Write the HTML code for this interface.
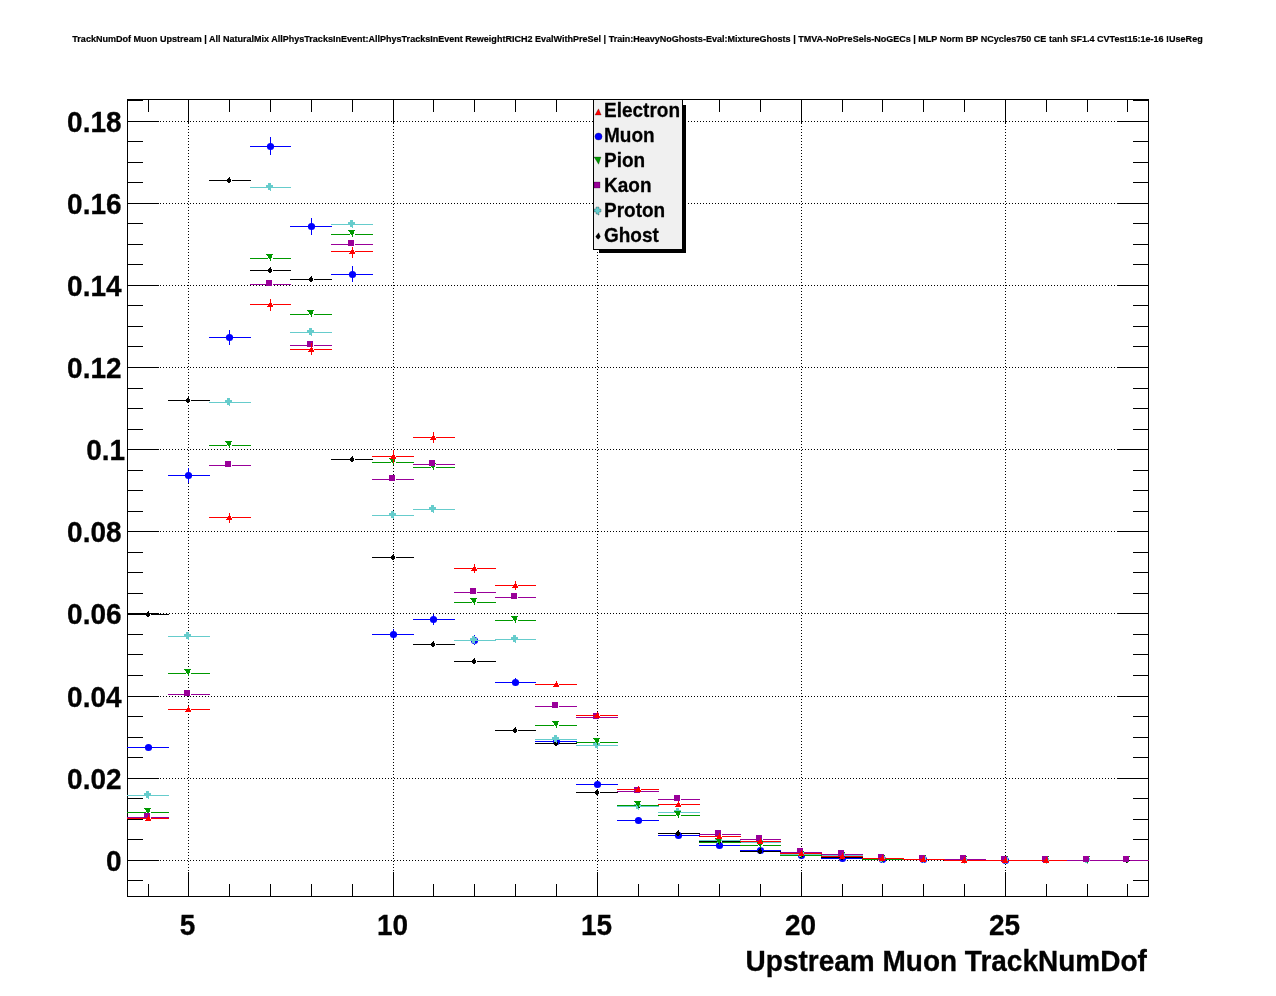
<!DOCTYPE html>
<html lang="en"><head><meta charset="utf-8"><title>Upstream Muon TrackNumDof</title>
<style>html,body{margin:0;padding:0;background:#fff;overflow:hidden}svg{display:block;will-change:transform}</style></head>
<body>
<svg width="1276" height="996" viewBox="0 0 1276 996" font-family="'Liberation Sans', Arial, Helvetica, sans-serif" font-weight="bold">
<rect width="1276" height="996" fill="#ffffff"/>
<g fill="#000" stroke="#000" stroke-width="0.2" style="opacity:0.996"><text transform="translate(637.5,42.1) scale(1,1.08)" text-anchor="middle" font-size="9.04">TrackNumDof Muon Upstream | All NaturalMix AllPhysTracksInEvent:AllPhysTracksInEvent ReweightRICH2 EvalWithPreSel | Train:HeavyNoGhosts-Eval:MixtureGhosts | TMVA-NoPreSels-NoGECs | MLP Norm BP NCycles750 CE tanh SF1.4 CVTest15:1e-16 !UseReg</text></g>
<g stroke="#000" stroke-width="1" stroke-dasharray="1 2" shape-rendering="crispEdges" fill="none">
<line x1="160" y1="121.5" x2="1117" y2="121.5"/>
<line x1="160" y1="203.5" x2="1117" y2="203.5"/>
<line x1="160" y1="285.5" x2="1117" y2="285.5"/>
<line x1="160" y1="367.5" x2="1117" y2="367.5"/>
<line x1="160" y1="449.5" x2="1117" y2="449.5"/>
<line x1="160" y1="531.5" x2="1117" y2="531.5"/>
<line x1="160" y1="613.5" x2="1117" y2="613.5"/>
<line x1="160" y1="696.5" x2="1117" y2="696.5"/>
<line x1="160" y1="778.5" x2="1117" y2="778.5"/>
<line x1="160" y1="860.5" x2="1117" y2="860.5"/>
<line x1="188.5" y1="123" x2="188.5" y2="871"/>
<line x1="393.5" y1="123" x2="393.5" y2="871"/>
<line x1="597.5" y1="123" x2="597.5" y2="871"/>
<line x1="801.5" y1="123" x2="801.5" y2="871"/>
<line x1="1005.5" y1="123" x2="1005.5" y2="871"/>
</g>
<g stroke="#000" stroke-width="1" shape-rendering="crispEdges" fill="none">
<rect x="127.5" y="99.5" width="1021" height="797"/>
<line x1="148.5" y1="897" x2="148.5" y2="884"/>
<line x1="148.5" y1="99" x2="148.5" y2="112"/>
<line x1="188.5" y1="897" x2="188.5" y2="872"/>
<line x1="188.5" y1="99" x2="188.5" y2="123"/>
<line x1="229.5" y1="897" x2="229.5" y2="884"/>
<line x1="229.5" y1="99" x2="229.5" y2="112"/>
<line x1="270.5" y1="897" x2="270.5" y2="884"/>
<line x1="270.5" y1="99" x2="270.5" y2="112"/>
<line x1="311.5" y1="897" x2="311.5" y2="884"/>
<line x1="311.5" y1="99" x2="311.5" y2="112"/>
<line x1="352.5" y1="897" x2="352.5" y2="884"/>
<line x1="352.5" y1="99" x2="352.5" y2="112"/>
<line x1="393.5" y1="897" x2="393.5" y2="872"/>
<line x1="393.5" y1="99" x2="393.5" y2="123"/>
<line x1="433.5" y1="897" x2="433.5" y2="884"/>
<line x1="433.5" y1="99" x2="433.5" y2="112"/>
<line x1="474.5" y1="897" x2="474.5" y2="884"/>
<line x1="474.5" y1="99" x2="474.5" y2="112"/>
<line x1="515.5" y1="897" x2="515.5" y2="884"/>
<line x1="515.5" y1="99" x2="515.5" y2="112"/>
<line x1="556.5" y1="897" x2="556.5" y2="884"/>
<line x1="556.5" y1="99" x2="556.5" y2="112"/>
<line x1="597.5" y1="897" x2="597.5" y2="872"/>
<line x1="597.5" y1="99" x2="597.5" y2="123"/>
<line x1="638.5" y1="897" x2="638.5" y2="884"/>
<line x1="638.5" y1="99" x2="638.5" y2="112"/>
<line x1="678.5" y1="897" x2="678.5" y2="884"/>
<line x1="678.5" y1="99" x2="678.5" y2="112"/>
<line x1="719.5" y1="897" x2="719.5" y2="884"/>
<line x1="719.5" y1="99" x2="719.5" y2="112"/>
<line x1="760.5" y1="897" x2="760.5" y2="884"/>
<line x1="760.5" y1="99" x2="760.5" y2="112"/>
<line x1="801.5" y1="897" x2="801.5" y2="872"/>
<line x1="801.5" y1="99" x2="801.5" y2="123"/>
<line x1="842.5" y1="897" x2="842.5" y2="884"/>
<line x1="842.5" y1="99" x2="842.5" y2="112"/>
<line x1="882.5" y1="897" x2="882.5" y2="884"/>
<line x1="882.5" y1="99" x2="882.5" y2="112"/>
<line x1="923.5" y1="897" x2="923.5" y2="884"/>
<line x1="923.5" y1="99" x2="923.5" y2="112"/>
<line x1="964.5" y1="897" x2="964.5" y2="884"/>
<line x1="964.5" y1="99" x2="964.5" y2="112"/>
<line x1="1005.5" y1="897" x2="1005.5" y2="872"/>
<line x1="1005.5" y1="99" x2="1005.5" y2="123"/>
<line x1="1046.5" y1="897" x2="1046.5" y2="884"/>
<line x1="1046.5" y1="99" x2="1046.5" y2="112"/>
<line x1="1087.5" y1="897" x2="1087.5" y2="884"/>
<line x1="1087.5" y1="99" x2="1087.5" y2="112"/>
<line x1="1127.5" y1="897" x2="1127.5" y2="884"/>
<line x1="1127.5" y1="99" x2="1127.5" y2="112"/>
<line x1="127" y1="880.5" x2="143" y2="880.5"/>
<line x1="1149" y1="880.5" x2="1133" y2="880.5"/>
<line x1="127" y1="860.5" x2="159" y2="860.5"/>
<line x1="1149" y1="860.5" x2="1117" y2="860.5"/>
<line x1="127" y1="839.5" x2="143" y2="839.5"/>
<line x1="1149" y1="839.5" x2="1133" y2="839.5"/>
<line x1="127" y1="819.5" x2="143" y2="819.5"/>
<line x1="1149" y1="819.5" x2="1133" y2="819.5"/>
<line x1="127" y1="798.5" x2="143" y2="798.5"/>
<line x1="1149" y1="798.5" x2="1133" y2="798.5"/>
<line x1="127" y1="778.5" x2="159" y2="778.5"/>
<line x1="1149" y1="778.5" x2="1117" y2="778.5"/>
<line x1="127" y1="757.5" x2="143" y2="757.5"/>
<line x1="1149" y1="757.5" x2="1133" y2="757.5"/>
<line x1="127" y1="737.5" x2="143" y2="737.5"/>
<line x1="1149" y1="737.5" x2="1133" y2="737.5"/>
<line x1="127" y1="716.5" x2="143" y2="716.5"/>
<line x1="1149" y1="716.5" x2="1133" y2="716.5"/>
<line x1="127" y1="696.5" x2="159" y2="696.5"/>
<line x1="1149" y1="696.5" x2="1117" y2="696.5"/>
<line x1="127" y1="675.5" x2="143" y2="675.5"/>
<line x1="1149" y1="675.5" x2="1133" y2="675.5"/>
<line x1="127" y1="654.5" x2="143" y2="654.5"/>
<line x1="1149" y1="654.5" x2="1133" y2="654.5"/>
<line x1="127" y1="634.5" x2="143" y2="634.5"/>
<line x1="1149" y1="634.5" x2="1133" y2="634.5"/>
<line x1="127" y1="613.5" x2="159" y2="613.5"/>
<line x1="1149" y1="613.5" x2="1117" y2="613.5"/>
<line x1="127" y1="593.5" x2="143" y2="593.5"/>
<line x1="1149" y1="593.5" x2="1133" y2="593.5"/>
<line x1="127" y1="572.5" x2="143" y2="572.5"/>
<line x1="1149" y1="572.5" x2="1133" y2="572.5"/>
<line x1="127" y1="552.5" x2="143" y2="552.5"/>
<line x1="1149" y1="552.5" x2="1133" y2="552.5"/>
<line x1="127" y1="531.5" x2="159" y2="531.5"/>
<line x1="1149" y1="531.5" x2="1117" y2="531.5"/>
<line x1="127" y1="511.5" x2="143" y2="511.5"/>
<line x1="1149" y1="511.5" x2="1133" y2="511.5"/>
<line x1="127" y1="490.5" x2="143" y2="490.5"/>
<line x1="1149" y1="490.5" x2="1133" y2="490.5"/>
<line x1="127" y1="470.5" x2="143" y2="470.5"/>
<line x1="1149" y1="470.5" x2="1133" y2="470.5"/>
<line x1="127" y1="449.5" x2="159" y2="449.5"/>
<line x1="1149" y1="449.5" x2="1117" y2="449.5"/>
<line x1="127" y1="429.5" x2="143" y2="429.5"/>
<line x1="1149" y1="429.5" x2="1133" y2="429.5"/>
<line x1="127" y1="408.5" x2="143" y2="408.5"/>
<line x1="1149" y1="408.5" x2="1133" y2="408.5"/>
<line x1="127" y1="388.5" x2="143" y2="388.5"/>
<line x1="1149" y1="388.5" x2="1133" y2="388.5"/>
<line x1="127" y1="367.5" x2="159" y2="367.5"/>
<line x1="1149" y1="367.5" x2="1117" y2="367.5"/>
<line x1="127" y1="346.5" x2="143" y2="346.5"/>
<line x1="1149" y1="346.5" x2="1133" y2="346.5"/>
<line x1="127" y1="326.5" x2="143" y2="326.5"/>
<line x1="1149" y1="326.5" x2="1133" y2="326.5"/>
<line x1="127" y1="305.5" x2="143" y2="305.5"/>
<line x1="1149" y1="305.5" x2="1133" y2="305.5"/>
<line x1="127" y1="285.5" x2="159" y2="285.5"/>
<line x1="1149" y1="285.5" x2="1117" y2="285.5"/>
<line x1="127" y1="264.5" x2="143" y2="264.5"/>
<line x1="1149" y1="264.5" x2="1133" y2="264.5"/>
<line x1="127" y1="244.5" x2="143" y2="244.5"/>
<line x1="1149" y1="244.5" x2="1133" y2="244.5"/>
<line x1="127" y1="223.5" x2="143" y2="223.5"/>
<line x1="1149" y1="223.5" x2="1133" y2="223.5"/>
<line x1="127" y1="203.5" x2="159" y2="203.5"/>
<line x1="1149" y1="203.5" x2="1117" y2="203.5"/>
<line x1="127" y1="182.5" x2="143" y2="182.5"/>
<line x1="1149" y1="182.5" x2="1133" y2="182.5"/>
<line x1="127" y1="162.5" x2="143" y2="162.5"/>
<line x1="1149" y1="162.5" x2="1133" y2="162.5"/>
<line x1="127" y1="141.5" x2="143" y2="141.5"/>
<line x1="1149" y1="141.5" x2="1133" y2="141.5"/>
<line x1="127" y1="121.5" x2="159" y2="121.5"/>
<line x1="1149" y1="121.5" x2="1117" y2="121.5"/>
<line x1="127" y1="100.5" x2="143" y2="100.5"/>
<line x1="1149" y1="100.5" x2="1133" y2="100.5"/>
</g>
<g font-size="28" fill="#000" stroke="#000" stroke-width="0.3" style="opacity:0.996">
<text transform="translate(121.6,132.4) scale(1,1.055)" text-anchor="end">0.18</text>
<text transform="translate(121.6,214.4) scale(1,1.055)" text-anchor="end">0.16</text>
<text transform="translate(121.6,296.4) scale(1,1.055)" text-anchor="end">0.14</text>
<text transform="translate(121.6,378.4) scale(1,1.055)" text-anchor="end">0.12</text>
<text transform="translate(125.19999999999999,460.4) scale(1,1.055)" text-anchor="end">0.1</text>
<text transform="translate(121.6,542.4) scale(1,1.055)" text-anchor="end">0.08</text>
<text transform="translate(121.6,624.4) scale(1,1.055)" text-anchor="end">0.06</text>
<text transform="translate(121.6,707.4) scale(1,1.055)" text-anchor="end">0.04</text>
<text transform="translate(121.6,789.4) scale(1,1.055)" text-anchor="end">0.02</text>
<text transform="translate(121.6,871.4) scale(1,1.055)" text-anchor="end">0</text>
<text transform="translate(187.6,935.2) scale(1,1.055)" text-anchor="middle">5</text>
<text transform="translate(392.6,935.2) scale(1,1.055)" text-anchor="middle">10</text>
<text transform="translate(596.6,935.2) scale(1,1.055)" text-anchor="middle">15</text>
<text transform="translate(800.6,935.2) scale(1,1.055)" text-anchor="middle">20</text>
<text transform="translate(1004.6,935.2) scale(1,1.055)" text-anchor="middle">25</text>
<text transform="translate(1146.8,971.0) scale(1,1.055)" text-anchor="end">Upstream Muon TrackNumDof</text>
</g>
<clipPath id="fc"><rect x="127" y="99" width="1022" height="798"/></clipPath>
<g clip-path="url(#fc)">
<g stroke="#0000ff" stroke-width="1" shape-rendering="crispEdges">
<line x1="127" y1="747.5" x2="146" y2="747.5"/>
<line x1="151" y1="747.5" x2="169" y2="747.5"/>
<line x1="168" y1="475.5" x2="186" y2="475.5"/>
<line x1="191" y1="475.5" x2="210" y2="475.5"/>
<line x1="188.5" y1="468" x2="188.5" y2="473"/>
<line x1="188.5" y1="478" x2="188.5" y2="483"/>
<line x1="209" y1="337.5" x2="227" y2="337.5"/>
<line x1="232" y1="337.5" x2="251" y2="337.5"/>
<line x1="229.5" y1="330" x2="229.5" y2="335"/>
<line x1="229.5" y1="340" x2="229.5" y2="345"/>
<line x1="250" y1="146.5" x2="268" y2="146.5"/>
<line x1="273" y1="146.5" x2="291" y2="146.5"/>
<line x1="270.5" y1="137" x2="270.5" y2="144"/>
<line x1="270.5" y1="149" x2="270.5" y2="155"/>
<line x1="290" y1="226.5" x2="309" y2="226.5"/>
<line x1="314" y1="226.5" x2="332" y2="226.5"/>
<line x1="311.5" y1="218" x2="311.5" y2="224"/>
<line x1="311.5" y1="229" x2="311.5" y2="235"/>
<line x1="331" y1="274.5" x2="350" y2="274.5"/>
<line x1="355" y1="274.5" x2="373" y2="274.5"/>
<line x1="352.5" y1="266" x2="352.5" y2="272"/>
<line x1="352.5" y1="277" x2="352.5" y2="282"/>
<line x1="372" y1="634.5" x2="391" y2="634.5"/>
<line x1="396" y1="634.5" x2="414" y2="634.5"/>
<line x1="393.5" y1="629" x2="393.5" y2="632"/>
<line x1="393.5" y1="637" x2="393.5" y2="639"/>
<line x1="413" y1="619.5" x2="431" y2="619.5"/>
<line x1="436" y1="619.5" x2="455" y2="619.5"/>
<line x1="433.5" y1="614" x2="433.5" y2="617"/>
<line x1="433.5" y1="622" x2="433.5" y2="625"/>
<line x1="454" y1="640.5" x2="472" y2="640.5"/>
<line x1="477" y1="640.5" x2="496" y2="640.5"/>
<line x1="474.5" y1="635" x2="474.5" y2="638"/>
<line x1="474.5" y1="643" x2="474.5" y2="645"/>
<line x1="495" y1="682.5" x2="513" y2="682.5"/>
<line x1="518" y1="682.5" x2="536" y2="682.5"/>
<line x1="515.5" y1="678" x2="515.5" y2="680"/>
<line x1="515.5" y1="685" x2="515.5" y2="686"/>
<line x1="535" y1="741.5" x2="554" y2="741.5"/>
<line x1="559" y1="741.5" x2="577" y2="741.5"/>
<line x1="576" y1="784.5" x2="595" y2="784.5"/>
<line x1="600" y1="784.5" x2="618" y2="784.5"/>
<line x1="617" y1="820.5" x2="636" y2="820.5"/>
<line x1="641" y1="820.5" x2="659" y2="820.5"/>
<line x1="658" y1="835.5" x2="676" y2="835.5"/>
<line x1="681" y1="835.5" x2="700" y2="835.5"/>
<line x1="699" y1="845.5" x2="717" y2="845.5"/>
<line x1="722" y1="845.5" x2="741" y2="845.5"/>
<line x1="740" y1="850.5" x2="758" y2="850.5"/>
<line x1="763" y1="850.5" x2="781" y2="850.5"/>
<line x1="780" y1="855.5" x2="799" y2="855.5"/>
<line x1="804" y1="855.5" x2="822" y2="855.5"/>
<line x1="821" y1="858.5" x2="840" y2="858.5"/>
<line x1="845" y1="858.5" x2="863" y2="858.5"/>
<line x1="862" y1="859.5" x2="880" y2="859.5"/>
<line x1="885" y1="859.5" x2="904" y2="859.5"/>
<line x1="903" y1="859.5" x2="921" y2="859.5"/>
<line x1="926" y1="859.5" x2="945" y2="859.5"/>
<line x1="985" y1="860.5" x2="1003" y2="860.5"/>
<line x1="1008" y1="860.5" x2="1026" y2="860.5"/>
</g>
<g shape-rendering="crispEdges">
<circle cx="148.5" cy="747.5" r="3.6" fill="#0000ff" shape-rendering="geometricPrecision"/>
<circle cx="188.5" cy="475.5" r="3.6" fill="#0000ff" shape-rendering="geometricPrecision"/>
<circle cx="229.5" cy="337.5" r="3.6" fill="#0000ff" shape-rendering="geometricPrecision"/>
<circle cx="270.5" cy="146.5" r="3.6" fill="#0000ff" shape-rendering="geometricPrecision"/>
<circle cx="311.5" cy="226.5" r="3.6" fill="#0000ff" shape-rendering="geometricPrecision"/>
<circle cx="352.5" cy="274.5" r="3.6" fill="#0000ff" shape-rendering="geometricPrecision"/>
<circle cx="393.5" cy="634.5" r="3.6" fill="#0000ff" shape-rendering="geometricPrecision"/>
<circle cx="433.5" cy="619.5" r="3.6" fill="#0000ff" shape-rendering="geometricPrecision"/>
<circle cx="474.5" cy="640.5" r="3.6" fill="#0000ff" shape-rendering="geometricPrecision"/>
<circle cx="515.5" cy="682.5" r="3.6" fill="#0000ff" shape-rendering="geometricPrecision"/>
<circle cx="556.5" cy="741.5" r="3.6" fill="#0000ff" shape-rendering="geometricPrecision"/>
<circle cx="597.5" cy="784.5" r="3.6" fill="#0000ff" shape-rendering="geometricPrecision"/>
<circle cx="638.5" cy="820.5" r="3.6" fill="#0000ff" shape-rendering="geometricPrecision"/>
<circle cx="678.5" cy="835.5" r="3.6" fill="#0000ff" shape-rendering="geometricPrecision"/>
<circle cx="719.5" cy="845.5" r="3.6" fill="#0000ff" shape-rendering="geometricPrecision"/>
<circle cx="760.5" cy="850.5" r="3.6" fill="#0000ff" shape-rendering="geometricPrecision"/>
<circle cx="801.5" cy="855.5" r="3.6" fill="#0000ff" shape-rendering="geometricPrecision"/>
<circle cx="842.5" cy="858.5" r="3.6" fill="#0000ff" shape-rendering="geometricPrecision"/>
<circle cx="882.5" cy="859.5" r="3.6" fill="#0000ff" shape-rendering="geometricPrecision"/>
<circle cx="923.5" cy="859.5" r="3.6" fill="#0000ff" shape-rendering="geometricPrecision"/>
<circle cx="1005.5" cy="860.5" r="3.6" fill="#0000ff" shape-rendering="geometricPrecision"/>
</g>
<g stroke="#000000" stroke-width="1" shape-rendering="crispEdges">
<line x1="127" y1="614.5" x2="146" y2="614.5"/>
<line x1="151" y1="614.5" x2="169" y2="614.5"/>
<line x1="168" y1="400.5" x2="186" y2="400.5"/>
<line x1="191" y1="400.5" x2="210" y2="400.5"/>
<line x1="209" y1="180.5" x2="227" y2="180.5"/>
<line x1="232" y1="180.5" x2="251" y2="180.5"/>
<line x1="250" y1="270.5" x2="268" y2="270.5"/>
<line x1="273" y1="270.5" x2="291" y2="270.5"/>
<line x1="290" y1="279.5" x2="309" y2="279.5"/>
<line x1="314" y1="279.5" x2="332" y2="279.5"/>
<line x1="331" y1="459.5" x2="350" y2="459.5"/>
<line x1="355" y1="459.5" x2="373" y2="459.5"/>
<line x1="372" y1="557.5" x2="391" y2="557.5"/>
<line x1="396" y1="557.5" x2="414" y2="557.5"/>
<line x1="413" y1="644.5" x2="431" y2="644.5"/>
<line x1="436" y1="644.5" x2="455" y2="644.5"/>
<line x1="454" y1="661.5" x2="472" y2="661.5"/>
<line x1="477" y1="661.5" x2="496" y2="661.5"/>
<line x1="495" y1="730.5" x2="513" y2="730.5"/>
<line x1="518" y1="730.5" x2="536" y2="730.5"/>
<line x1="535" y1="743.5" x2="554" y2="743.5"/>
<line x1="559" y1="743.5" x2="577" y2="743.5"/>
<line x1="576" y1="792.5" x2="595" y2="792.5"/>
<line x1="600" y1="792.5" x2="618" y2="792.5"/>
<line x1="617" y1="806.5" x2="636" y2="806.5"/>
<line x1="641" y1="806.5" x2="659" y2="806.5"/>
<line x1="658" y1="833.5" x2="676" y2="833.5"/>
<line x1="681" y1="833.5" x2="700" y2="833.5"/>
<line x1="699" y1="841.5" x2="717" y2="841.5"/>
<line x1="722" y1="841.5" x2="741" y2="841.5"/>
<line x1="740" y1="851.5" x2="758" y2="851.5"/>
<line x1="763" y1="851.5" x2="781" y2="851.5"/>
<line x1="780" y1="855.5" x2="799" y2="855.5"/>
<line x1="804" y1="855.5" x2="822" y2="855.5"/>
<line x1="821" y1="857.5" x2="840" y2="857.5"/>
<line x1="845" y1="857.5" x2="863" y2="857.5"/>
<line x1="862" y1="859.5" x2="880" y2="859.5"/>
<line x1="885" y1="859.5" x2="904" y2="859.5"/>
<line x1="903" y1="859.5" x2="921" y2="859.5"/>
<line x1="926" y1="859.5" x2="945" y2="859.5"/>
<line x1="944" y1="860.5" x2="962" y2="860.5"/>
<line x1="967" y1="860.5" x2="986" y2="860.5"/>
<line x1="985" y1="860.5" x2="1003" y2="860.5"/>
<line x1="1008" y1="860.5" x2="1026" y2="860.5"/>
<line x1="1025" y1="860.5" x2="1044" y2="860.5"/>
<line x1="1049" y1="860.5" x2="1067" y2="860.5"/>
<line x1="1107" y1="860.5" x2="1125" y2="860.5"/>
<line x1="1130" y1="860.5" x2="1149" y2="860.5"/>
</g>
<g shape-rendering="crispEdges">
<polygon points="148.7,610.7 149.5,612.8 150.4,614.5 149.4,616.2 148.2,617.2 146.8,616.2 145.7,614.5 147.0,612.8" fill="#000000"/>
<polygon points="188.7,396.7 189.5,398.8 190.4,400.5 189.4,402.2 188.2,403.2 186.8,402.2 185.7,400.5 187.0,398.8" fill="#000000"/>
<polygon points="229.7,176.7 230.5,178.8 231.4,180.5 230.4,182.2 229.2,183.2 227.8,182.2 226.7,180.5 228.0,178.8" fill="#000000"/>
<polygon points="270.7,266.7 271.5,268.8 272.4,270.5 271.4,272.2 270.2,273.2 268.8,272.2 267.7,270.5 269.0,268.8" fill="#000000"/>
<polygon points="311.7,275.7 312.5,277.8 313.4,279.5 312.4,281.2 311.2,282.2 309.8,281.2 308.7,279.5 310.0,277.8" fill="#000000"/>
<polygon points="352.7,455.7 353.5,457.8 354.4,459.5 353.4,461.2 352.2,462.2 350.8,461.2 349.7,459.5 351.0,457.8" fill="#000000"/>
<polygon points="393.7,553.7 394.5,555.8 395.4,557.5 394.4,559.2 393.2,560.2 391.8,559.2 390.7,557.5 392.0,555.8" fill="#000000"/>
<polygon points="433.7,640.7 434.5,642.8 435.4,644.5 434.4,646.2 433.2,647.2 431.8,646.2 430.7,644.5 432.0,642.8" fill="#000000"/>
<polygon points="474.7,657.7 475.5,659.8 476.4,661.5 475.4,663.2 474.2,664.2 472.8,663.2 471.7,661.5 473.0,659.8" fill="#000000"/>
<polygon points="515.7,726.7 516.5,728.8 517.4,730.5 516.4,732.2 515.2,733.2 513.8,732.2 512.7,730.5 514.0,728.8" fill="#000000"/>
<polygon points="556.7,739.7 557.5,741.8 558.4,743.5 557.4,745.2 556.2,746.2 554.8,745.2 553.7,743.5 555.0,741.8" fill="#000000"/>
<polygon points="597.7,788.7 598.5,790.8 599.4,792.5 598.4,794.2 597.2,795.2 595.8,794.2 594.7,792.5 596.0,790.8" fill="#000000"/>
<polygon points="638.7,802.7 639.5,804.8 640.4,806.5 639.4,808.2 638.2,809.2 636.8,808.2 635.7,806.5 637.0,804.8" fill="#000000"/>
<polygon points="678.7,829.7 679.5,831.8 680.4,833.5 679.4,835.2 678.2,836.2 676.8,835.2 675.7,833.5 677.0,831.8" fill="#000000"/>
<polygon points="719.7,837.7 720.5,839.8 721.4,841.5 720.4,843.2 719.2,844.2 717.8,843.2 716.7,841.5 718.0,839.8" fill="#000000"/>
<polygon points="760.7,847.7 761.5,849.8 762.4,851.5 761.4,853.2 760.2,854.2 758.8,853.2 757.7,851.5 759.0,849.8" fill="#000000"/>
<polygon points="801.7,851.7 802.5,853.8 803.4,855.5 802.4,857.2 801.2,858.2 799.8,857.2 798.7,855.5 800.0,853.8" fill="#000000"/>
<polygon points="842.7,853.7 843.5,855.8 844.4,857.5 843.4,859.2 842.2,860.2 840.8,859.2 839.7,857.5 841.0,855.8" fill="#000000"/>
<polygon points="882.7,855.7 883.5,857.8 884.4,859.5 883.4,861.2 882.2,862.2 880.8,861.2 879.7,859.5 881.0,857.8" fill="#000000"/>
<polygon points="923.7,855.7 924.5,857.8 925.4,859.5 924.4,861.2 923.2,862.2 921.8,861.2 920.7,859.5 922.0,857.8" fill="#000000"/>
<polygon points="964.7,856.7 965.5,858.8 966.4,860.5 965.4,862.2 964.2,863.2 962.8,862.2 961.7,860.5 963.0,858.8" fill="#000000"/>
<polygon points="1005.7,856.7 1006.5,858.8 1007.4,860.5 1006.4,862.2 1005.2,863.2 1003.8,862.2 1002.7,860.5 1004.0,858.8" fill="#000000"/>
<polygon points="1046.7,856.7 1047.5,858.8 1048.4,860.5 1047.4,862.2 1046.2,863.2 1044.8,862.2 1043.7,860.5 1045.0,858.8" fill="#000000"/>
<polygon points="1127.7,856.7 1128.5,858.8 1129.4,860.5 1128.4,862.2 1127.2,863.2 1125.8,862.2 1124.7,860.5 1126.0,858.8" fill="#000000"/>
</g>
<g stroke="#66cccc" stroke-width="1" shape-rendering="crispEdges">
<line x1="127" y1="795.5" x2="146" y2="795.5"/>
<line x1="151" y1="795.5" x2="169" y2="795.5"/>
<line x1="168" y1="636.5" x2="186" y2="636.5"/>
<line x1="191" y1="636.5" x2="210" y2="636.5"/>
<line x1="209" y1="402.5" x2="227" y2="402.5"/>
<line x1="232" y1="402.5" x2="251" y2="402.5"/>
<line x1="250" y1="187.5" x2="268" y2="187.5"/>
<line x1="273" y1="187.5" x2="291" y2="187.5"/>
<line x1="290" y1="332.5" x2="309" y2="332.5"/>
<line x1="314" y1="332.5" x2="332" y2="332.5"/>
<line x1="331" y1="224.5" x2="350" y2="224.5"/>
<line x1="355" y1="224.5" x2="373" y2="224.5"/>
<line x1="372" y1="515.5" x2="391" y2="515.5"/>
<line x1="396" y1="515.5" x2="414" y2="515.5"/>
<line x1="413" y1="509.5" x2="431" y2="509.5"/>
<line x1="436" y1="509.5" x2="455" y2="509.5"/>
<line x1="454" y1="640.5" x2="472" y2="640.5"/>
<line x1="477" y1="640.5" x2="496" y2="640.5"/>
<line x1="495" y1="639.5" x2="513" y2="639.5"/>
<line x1="518" y1="639.5" x2="536" y2="639.5"/>
<line x1="535" y1="739.5" x2="554" y2="739.5"/>
<line x1="559" y1="739.5" x2="577" y2="739.5"/>
<line x1="576" y1="745.5" x2="595" y2="745.5"/>
<line x1="600" y1="745.5" x2="618" y2="745.5"/>
<line x1="617" y1="806.5" x2="636" y2="806.5"/>
<line x1="641" y1="806.5" x2="659" y2="806.5"/>
<line x1="658" y1="812.5" x2="676" y2="812.5"/>
<line x1="681" y1="812.5" x2="700" y2="812.5"/>
<line x1="699" y1="840.5" x2="717" y2="840.5"/>
<line x1="722" y1="840.5" x2="741" y2="840.5"/>
<line x1="740" y1="842.5" x2="758" y2="842.5"/>
<line x1="763" y1="842.5" x2="781" y2="842.5"/>
<line x1="780" y1="854.5" x2="799" y2="854.5"/>
<line x1="804" y1="854.5" x2="822" y2="854.5"/>
<line x1="821" y1="855.5" x2="840" y2="855.5"/>
<line x1="845" y1="855.5" x2="863" y2="855.5"/>
<line x1="862" y1="859.5" x2="880" y2="859.5"/>
<line x1="885" y1="859.5" x2="904" y2="859.5"/>
<line x1="903" y1="859.5" x2="921" y2="859.5"/>
<line x1="926" y1="859.5" x2="945" y2="859.5"/>
<line x1="944" y1="860.5" x2="962" y2="860.5"/>
<line x1="967" y1="860.5" x2="986" y2="860.5"/>
<line x1="985" y1="860.5" x2="1003" y2="860.5"/>
<line x1="1008" y1="860.5" x2="1026" y2="860.5"/>
<line x1="1025" y1="860.5" x2="1044" y2="860.5"/>
<line x1="1049" y1="860.5" x2="1067" y2="860.5"/>
<line x1="1066" y1="860.5" x2="1085" y2="860.5"/>
<line x1="1090" y1="860.5" x2="1108" y2="860.5"/>
</g>
<g shape-rendering="crispEdges">
<path d="M146,791 h3 v2 h2 v3 h-2 v3 h-1 v-1 h-2 v-2 h-2 v-3 h2 z" fill="#66cccc"/>
<path d="M186,632 h3 v2 h2 v3 h-2 v3 h-1 v-1 h-2 v-2 h-2 v-3 h2 z" fill="#66cccc"/>
<path d="M227,398 h3 v2 h2 v3 h-2 v3 h-1 v-1 h-2 v-2 h-2 v-3 h2 z" fill="#66cccc"/>
<path d="M268,183 h3 v2 h2 v3 h-2 v3 h-1 v-1 h-2 v-2 h-2 v-3 h2 z" fill="#66cccc"/>
<path d="M309,328 h3 v2 h2 v3 h-2 v3 h-1 v-1 h-2 v-2 h-2 v-3 h2 z" fill="#66cccc"/>
<path d="M350,220 h3 v2 h2 v3 h-2 v3 h-1 v-1 h-2 v-2 h-2 v-3 h2 z" fill="#66cccc"/>
<path d="M391,511 h3 v2 h2 v3 h-2 v3 h-1 v-1 h-2 v-2 h-2 v-3 h2 z" fill="#66cccc"/>
<path d="M431,505 h3 v2 h2 v3 h-2 v3 h-1 v-1 h-2 v-2 h-2 v-3 h2 z" fill="#66cccc"/>
<path d="M472,636 h3 v2 h2 v3 h-2 v3 h-1 v-1 h-2 v-2 h-2 v-3 h2 z" fill="#66cccc"/>
<path d="M513,635 h3 v2 h2 v3 h-2 v3 h-1 v-1 h-2 v-2 h-2 v-3 h2 z" fill="#66cccc"/>
<path d="M554,735 h3 v2 h2 v3 h-2 v3 h-1 v-1 h-2 v-2 h-2 v-3 h2 z" fill="#66cccc"/>
<path d="M595,741 h3 v2 h2 v3 h-2 v3 h-1 v-1 h-2 v-2 h-2 v-3 h2 z" fill="#66cccc"/>
<path d="M636,802 h3 v2 h2 v3 h-2 v3 h-1 v-1 h-2 v-2 h-2 v-3 h2 z" fill="#66cccc"/>
<path d="M676,808 h3 v2 h2 v3 h-2 v3 h-1 v-1 h-2 v-2 h-2 v-3 h2 z" fill="#66cccc"/>
<path d="M717,836 h3 v2 h2 v3 h-2 v3 h-1 v-1 h-2 v-2 h-2 v-3 h2 z" fill="#66cccc"/>
<path d="M758,838 h3 v2 h2 v3 h-2 v3 h-1 v-1 h-2 v-2 h-2 v-3 h2 z" fill="#66cccc"/>
<path d="M799,850 h3 v2 h2 v3 h-2 v3 h-1 v-1 h-2 v-2 h-2 v-3 h2 z" fill="#66cccc"/>
<path d="M840,851 h3 v2 h2 v3 h-2 v3 h-1 v-1 h-2 v-2 h-2 v-3 h2 z" fill="#66cccc"/>
<path d="M880,855 h3 v2 h2 v3 h-2 v3 h-1 v-1 h-2 v-2 h-2 v-3 h2 z" fill="#66cccc"/>
<path d="M921,855 h3 v2 h2 v3 h-2 v3 h-1 v-1 h-2 v-2 h-2 v-3 h2 z" fill="#66cccc"/>
<path d="M962,856 h3 v2 h2 v3 h-2 v3 h-1 v-1 h-2 v-2 h-2 v-3 h2 z" fill="#66cccc"/>
<path d="M1003,856 h3 v2 h2 v3 h-2 v3 h-1 v-1 h-2 v-2 h-2 v-3 h2 z" fill="#66cccc"/>
<path d="M1044,856 h3 v2 h2 v3 h-2 v3 h-1 v-1 h-2 v-2 h-2 v-3 h2 z" fill="#66cccc"/>
<path d="M1085,856 h3 v2 h2 v3 h-2 v3 h-1 v-1 h-2 v-2 h-2 v-3 h2 z" fill="#66cccc"/>
</g>
<g stroke="#009900" stroke-width="1" shape-rendering="crispEdges">
<line x1="127" y1="812.5" x2="146" y2="812.5"/>
<line x1="151" y1="812.5" x2="169" y2="812.5"/>
<line x1="168" y1="673.5" x2="186" y2="673.5"/>
<line x1="191" y1="673.5" x2="210" y2="673.5"/>
<line x1="209" y1="445.5" x2="227" y2="445.5"/>
<line x1="232" y1="445.5" x2="251" y2="445.5"/>
<line x1="250" y1="258.5" x2="268" y2="258.5"/>
<line x1="273" y1="258.5" x2="291" y2="258.5"/>
<line x1="290" y1="314.5" x2="309" y2="314.5"/>
<line x1="314" y1="314.5" x2="332" y2="314.5"/>
<line x1="331" y1="234.5" x2="350" y2="234.5"/>
<line x1="355" y1="234.5" x2="373" y2="234.5"/>
<line x1="372" y1="462.5" x2="391" y2="462.5"/>
<line x1="396" y1="462.5" x2="414" y2="462.5"/>
<line x1="413" y1="467.5" x2="431" y2="467.5"/>
<line x1="436" y1="467.5" x2="455" y2="467.5"/>
<line x1="454" y1="602.5" x2="472" y2="602.5"/>
<line x1="477" y1="602.5" x2="496" y2="602.5"/>
<line x1="495" y1="620.5" x2="513" y2="620.5"/>
<line x1="518" y1="620.5" x2="536" y2="620.5"/>
<line x1="535" y1="725.5" x2="554" y2="725.5"/>
<line x1="559" y1="725.5" x2="577" y2="725.5"/>
<line x1="576" y1="742.5" x2="595" y2="742.5"/>
<line x1="600" y1="742.5" x2="618" y2="742.5"/>
<line x1="617" y1="805.5" x2="636" y2="805.5"/>
<line x1="641" y1="805.5" x2="659" y2="805.5"/>
<line x1="658" y1="815.5" x2="676" y2="815.5"/>
<line x1="681" y1="815.5" x2="700" y2="815.5"/>
<line x1="699" y1="842.5" x2="717" y2="842.5"/>
<line x1="722" y1="842.5" x2="741" y2="842.5"/>
<line x1="740" y1="845.5" x2="758" y2="845.5"/>
<line x1="763" y1="845.5" x2="781" y2="845.5"/>
<line x1="780" y1="855.5" x2="799" y2="855.5"/>
<line x1="804" y1="855.5" x2="822" y2="855.5"/>
<line x1="821" y1="856.5" x2="840" y2="856.5"/>
<line x1="845" y1="856.5" x2="863" y2="856.5"/>
<line x1="862" y1="859.5" x2="880" y2="859.5"/>
<line x1="885" y1="859.5" x2="904" y2="859.5"/>
<line x1="903" y1="859.5" x2="921" y2="859.5"/>
<line x1="926" y1="859.5" x2="945" y2="859.5"/>
<line x1="944" y1="860.5" x2="962" y2="860.5"/>
<line x1="967" y1="860.5" x2="986" y2="860.5"/>
<line x1="985" y1="860.5" x2="1003" y2="860.5"/>
<line x1="1008" y1="860.5" x2="1026" y2="860.5"/>
<line x1="1025" y1="860.5" x2="1044" y2="860.5"/>
<line x1="1049" y1="860.5" x2="1067" y2="860.5"/>
<line x1="1066" y1="860.5" x2="1085" y2="860.5"/>
<line x1="1090" y1="860.5" x2="1108" y2="860.5"/>
<line x1="1107" y1="860.5" x2="1125" y2="860.5"/>
<line x1="1130" y1="860.5" x2="1149" y2="860.5"/>
</g>
<g shape-rendering="crispEdges">
<polygon points="144,808 151,808 148.6,815.2" fill="#009900"/>
<polygon points="184,669 191,669 188.6,676.2" fill="#009900"/>
<polygon points="225,441 232,441 229.6,448.2" fill="#009900"/>
<polygon points="266,254 273,254 270.6,261.2" fill="#009900"/>
<polygon points="307,310 314,310 311.6,317.2" fill="#009900"/>
<polygon points="348,230 355,230 352.6,237.2" fill="#009900"/>
<polygon points="389,458 396,458 393.6,465.2" fill="#009900"/>
<polygon points="429,463 436,463 433.6,470.2" fill="#009900"/>
<polygon points="470,598 477,598 474.6,605.2" fill="#009900"/>
<polygon points="511,616 518,616 515.6,623.2" fill="#009900"/>
<polygon points="552,721 559,721 556.6,728.2" fill="#009900"/>
<polygon points="593,738 600,738 597.6,745.2" fill="#009900"/>
<polygon points="634,801 641,801 638.6,808.2" fill="#009900"/>
<polygon points="674,811 681,811 678.6,818.2" fill="#009900"/>
<polygon points="715,838 722,838 719.6,845.2" fill="#009900"/>
<polygon points="756,841 763,841 760.6,848.2" fill="#009900"/>
<polygon points="797,851 804,851 801.6,858.2" fill="#009900"/>
<polygon points="838,852 845,852 842.6,859.2" fill="#009900"/>
<polygon points="878,855 885,855 882.6,862.2" fill="#009900"/>
<polygon points="919,855 926,855 923.6,862.2" fill="#009900"/>
<polygon points="960,856 967,856 964.6,863.2" fill="#009900"/>
<polygon points="1001,856 1008,856 1005.6,863.2" fill="#009900"/>
<polygon points="1042,856 1049,856 1046.6,863.2" fill="#009900"/>
<polygon points="1083,856 1090,856 1087.6,863.2" fill="#009900"/>
<polygon points="1123,856 1130,856 1127.6,863.2" fill="#009900"/>
</g>
<g stroke="#990099" stroke-width="1" shape-rendering="crispEdges">
<line x1="127" y1="817.5" x2="146" y2="817.5"/>
<line x1="151" y1="817.5" x2="169" y2="817.5"/>
<line x1="168" y1="694.5" x2="186" y2="694.5"/>
<line x1="191" y1="694.5" x2="210" y2="694.5"/>
<line x1="209" y1="465.5" x2="227" y2="465.5"/>
<line x1="232" y1="465.5" x2="251" y2="465.5"/>
<line x1="250" y1="284.5" x2="268" y2="284.5"/>
<line x1="273" y1="284.5" x2="291" y2="284.5"/>
<line x1="290" y1="345.5" x2="309" y2="345.5"/>
<line x1="314" y1="345.5" x2="332" y2="345.5"/>
<line x1="331" y1="244.5" x2="350" y2="244.5"/>
<line x1="355" y1="244.5" x2="373" y2="244.5"/>
<line x1="372" y1="479.5" x2="391" y2="479.5"/>
<line x1="396" y1="479.5" x2="414" y2="479.5"/>
<line x1="413" y1="464.5" x2="431" y2="464.5"/>
<line x1="436" y1="464.5" x2="455" y2="464.5"/>
<line x1="454" y1="592.5" x2="472" y2="592.5"/>
<line x1="477" y1="592.5" x2="496" y2="592.5"/>
<line x1="495" y1="597.5" x2="513" y2="597.5"/>
<line x1="518" y1="597.5" x2="536" y2="597.5"/>
<line x1="535" y1="706.5" x2="554" y2="706.5"/>
<line x1="559" y1="706.5" x2="577" y2="706.5"/>
<line x1="576" y1="717.5" x2="595" y2="717.5"/>
<line x1="600" y1="717.5" x2="618" y2="717.5"/>
<line x1="617" y1="791.5" x2="636" y2="791.5"/>
<line x1="641" y1="791.5" x2="659" y2="791.5"/>
<line x1="658" y1="799.5" x2="676" y2="799.5"/>
<line x1="681" y1="799.5" x2="700" y2="799.5"/>
<line x1="699" y1="834.5" x2="717" y2="834.5"/>
<line x1="722" y1="834.5" x2="741" y2="834.5"/>
<line x1="740" y1="839.5" x2="758" y2="839.5"/>
<line x1="763" y1="839.5" x2="781" y2="839.5"/>
<line x1="780" y1="852.5" x2="799" y2="852.5"/>
<line x1="804" y1="852.5" x2="822" y2="852.5"/>
<line x1="821" y1="854.5" x2="840" y2="854.5"/>
<line x1="845" y1="854.5" x2="863" y2="854.5"/>
<line x1="862" y1="858.5" x2="880" y2="858.5"/>
<line x1="885" y1="858.5" x2="904" y2="858.5"/>
<line x1="903" y1="859.5" x2="921" y2="859.5"/>
<line x1="926" y1="859.5" x2="945" y2="859.5"/>
<line x1="944" y1="859.5" x2="962" y2="859.5"/>
<line x1="967" y1="859.5" x2="986" y2="859.5"/>
<line x1="985" y1="860.5" x2="1003" y2="860.5"/>
<line x1="1008" y1="860.5" x2="1026" y2="860.5"/>
<line x1="1025" y1="860.5" x2="1044" y2="860.5"/>
<line x1="1049" y1="860.5" x2="1067" y2="860.5"/>
<line x1="1066" y1="860.5" x2="1085" y2="860.5"/>
<line x1="1090" y1="860.5" x2="1108" y2="860.5"/>
<line x1="1107" y1="860.5" x2="1125" y2="860.5"/>
<line x1="1130" y1="860.5" x2="1149" y2="860.5"/>
</g>
<g shape-rendering="crispEdges">
<rect x="144" y="813" width="6" height="6" fill="#990099"/>
<rect x="184" y="690" width="6" height="6" fill="#990099"/>
<rect x="225" y="461" width="6" height="6" fill="#990099"/>
<rect x="266" y="280" width="6" height="6" fill="#990099"/>
<rect x="307" y="341" width="6" height="6" fill="#990099"/>
<rect x="348" y="240" width="6" height="6" fill="#990099"/>
<rect x="389" y="475" width="6" height="6" fill="#990099"/>
<rect x="429" y="460" width="6" height="6" fill="#990099"/>
<rect x="470" y="588" width="6" height="6" fill="#990099"/>
<rect x="511" y="593" width="6" height="6" fill="#990099"/>
<rect x="552" y="702" width="6" height="6" fill="#990099"/>
<rect x="593" y="713" width="6" height="6" fill="#990099"/>
<rect x="634" y="787" width="6" height="6" fill="#990099"/>
<rect x="674" y="795" width="6" height="6" fill="#990099"/>
<rect x="715" y="830" width="6" height="6" fill="#990099"/>
<rect x="756" y="835" width="6" height="6" fill="#990099"/>
<rect x="797" y="848" width="6" height="6" fill="#990099"/>
<rect x="838" y="850" width="6" height="6" fill="#990099"/>
<rect x="878" y="854" width="6" height="6" fill="#990099"/>
<rect x="919" y="855" width="6" height="6" fill="#990099"/>
<rect x="960" y="855" width="6" height="6" fill="#990099"/>
<rect x="1001" y="856" width="6" height="6" fill="#990099"/>
<rect x="1042" y="856" width="6" height="6" fill="#990099"/>
<rect x="1083" y="856" width="6" height="6" fill="#990099"/>
<rect x="1123" y="856" width="6" height="6" fill="#990099"/>
</g>
<g stroke="#ff0000" stroke-width="1" shape-rendering="crispEdges">
<line x1="127" y1="818.5" x2="146" y2="818.5"/>
<line x1="151" y1="818.5" x2="169" y2="818.5"/>
<line x1="168" y1="709.5" x2="186" y2="709.5"/>
<line x1="191" y1="709.5" x2="210" y2="709.5"/>
<line x1="209" y1="517.5" x2="227" y2="517.5"/>
<line x1="232" y1="517.5" x2="251" y2="517.5"/>
<line x1="229.5" y1="513" x2="229.5" y2="515"/>
<line x1="229.5" y1="520" x2="229.5" y2="523"/>
<line x1="250" y1="304.5" x2="268" y2="304.5"/>
<line x1="273" y1="304.5" x2="291" y2="304.5"/>
<line x1="270.5" y1="299" x2="270.5" y2="302"/>
<line x1="270.5" y1="307" x2="270.5" y2="311"/>
<line x1="290" y1="349.5" x2="309" y2="349.5"/>
<line x1="314" y1="349.5" x2="332" y2="349.5"/>
<line x1="311.5" y1="343" x2="311.5" y2="347"/>
<line x1="311.5" y1="352" x2="311.5" y2="355"/>
<line x1="331" y1="251.5" x2="350" y2="251.5"/>
<line x1="355" y1="251.5" x2="373" y2="251.5"/>
<line x1="352.5" y1="247" x2="352.5" y2="249"/>
<line x1="352.5" y1="254" x2="352.5" y2="258"/>
<line x1="372" y1="456.5" x2="391" y2="456.5"/>
<line x1="396" y1="456.5" x2="414" y2="456.5"/>
<line x1="393.5" y1="450" x2="393.5" y2="454"/>
<line x1="393.5" y1="459" x2="393.5" y2="463"/>
<line x1="413" y1="437.5" x2="431" y2="437.5"/>
<line x1="436" y1="437.5" x2="455" y2="437.5"/>
<line x1="433.5" y1="432" x2="433.5" y2="435"/>
<line x1="433.5" y1="440" x2="433.5" y2="443"/>
<line x1="454" y1="568.5" x2="472" y2="568.5"/>
<line x1="477" y1="568.5" x2="496" y2="568.5"/>
<line x1="474.5" y1="564" x2="474.5" y2="566"/>
<line x1="474.5" y1="571" x2="474.5" y2="573"/>
<line x1="495" y1="585.5" x2="513" y2="585.5"/>
<line x1="518" y1="585.5" x2="536" y2="585.5"/>
<line x1="515.5" y1="581" x2="515.5" y2="583"/>
<line x1="515.5" y1="588" x2="515.5" y2="590"/>
<line x1="535" y1="684.5" x2="554" y2="684.5"/>
<line x1="559" y1="684.5" x2="577" y2="684.5"/>
<line x1="576" y1="715.5" x2="595" y2="715.5"/>
<line x1="600" y1="715.5" x2="618" y2="715.5"/>
<line x1="617" y1="789.5" x2="636" y2="789.5"/>
<line x1="641" y1="789.5" x2="659" y2="789.5"/>
<line x1="658" y1="804.5" x2="676" y2="804.5"/>
<line x1="681" y1="804.5" x2="700" y2="804.5"/>
<line x1="699" y1="836.5" x2="717" y2="836.5"/>
<line x1="722" y1="836.5" x2="741" y2="836.5"/>
<line x1="740" y1="841.5" x2="758" y2="841.5"/>
<line x1="763" y1="841.5" x2="781" y2="841.5"/>
<line x1="780" y1="853.5" x2="799" y2="853.5"/>
<line x1="804" y1="853.5" x2="822" y2="853.5"/>
<line x1="821" y1="856.5" x2="840" y2="856.5"/>
<line x1="845" y1="856.5" x2="863" y2="856.5"/>
<line x1="862" y1="858.5" x2="880" y2="858.5"/>
<line x1="885" y1="858.5" x2="904" y2="858.5"/>
<line x1="903" y1="859.5" x2="921" y2="859.5"/>
<line x1="926" y1="859.5" x2="945" y2="859.5"/>
<line x1="944" y1="860.5" x2="962" y2="860.5"/>
<line x1="967" y1="860.5" x2="986" y2="860.5"/>
<line x1="985" y1="860.5" x2="1003" y2="860.5"/>
<line x1="1008" y1="860.5" x2="1026" y2="860.5"/>
<line x1="1025" y1="860.5" x2="1044" y2="860.5"/>
<line x1="1049" y1="860.5" x2="1067" y2="860.5"/>
</g>
<g shape-rendering="crispEdges">
<polygon points="145,821 151.2,821 148.5,814.8" fill="#ff0000"/>
<polygon points="185,712 191.2,712 188.5,705.8" fill="#ff0000"/>
<polygon points="226,520 232.2,520 229.5,513.8" fill="#ff0000"/>
<polygon points="267,307 273.2,307 270.5,300.8" fill="#ff0000"/>
<polygon points="308,352 314.2,352 311.5,345.8" fill="#ff0000"/>
<polygon points="349,254 355.2,254 352.5,247.8" fill="#ff0000"/>
<polygon points="390,459 396.2,459 393.5,452.8" fill="#ff0000"/>
<polygon points="430,440 436.2,440 433.5,433.8" fill="#ff0000"/>
<polygon points="471,571 477.2,571 474.5,564.8" fill="#ff0000"/>
<polygon points="512,588 518.2,588 515.5,581.8" fill="#ff0000"/>
<polygon points="553,687 559.2,687 556.5,680.8" fill="#ff0000"/>
<polygon points="594,718 600.2,718 597.5,711.8" fill="#ff0000"/>
<polygon points="635,792 641.2,792 638.5,785.8" fill="#ff0000"/>
<polygon points="675,807 681.2,807 678.5,800.8" fill="#ff0000"/>
<polygon points="716,839 722.2,839 719.5,832.8" fill="#ff0000"/>
<polygon points="757,844 763.2,844 760.5,837.8" fill="#ff0000"/>
<polygon points="798,856 804.2,856 801.5,849.8" fill="#ff0000"/>
<polygon points="839,859 845.2,859 842.5,852.8" fill="#ff0000"/>
<polygon points="879,861 885.2,861 882.5,854.8" fill="#ff0000"/>
<polygon points="920,862 926.2,862 923.5,855.8" fill="#ff0000"/>
<polygon points="961,863 967.2,863 964.5,856.8" fill="#ff0000"/>
<polygon points="1002,863 1008.2,863 1005.5,856.8" fill="#ff0000"/>
<polygon points="1043,863 1049.2,863 1046.5,856.8" fill="#ff0000"/>
</g>
</g>
<path d="M683,105 h3 v148 h-87 v-3 h84 z" fill="#000" shape-rendering="crispEdges"/>
<rect x="593.5" y="99.5" width="89" height="150" fill="#f0f0f0" stroke="#000" stroke-width="1" shape-rendering="crispEdges"/>
<g font-size="19" fill="#000" stroke="#000" stroke-width="0.25" style="opacity:0.996">
<polygon points="595,115 601.2,115 598.5,108.8" fill="#ff0000"/>
<text transform="translate(604,116.9) scale(1,1.04)" text-anchor="start" stroke-linejoin="round">Electron</text>
<circle cx="598.5" cy="136.5" r="3.6" fill="#0000ff" shape-rendering="geometricPrecision"/>
<text transform="translate(604,141.8) scale(1,1.04)" text-anchor="start" stroke-linejoin="round">Muon</text>
<polygon points="594,157 601,157 598.6,164.2" fill="#009900"/>
<text transform="translate(604,166.8) scale(1,1.04)" text-anchor="start" stroke-linejoin="round">Pion</text>
<rect x="594" y="182" width="6" height="6" fill="#990099"/>
<text transform="translate(604,191.7) scale(1,1.04)" text-anchor="start" stroke-linejoin="round">Kaon</text>
<path d="M596,207 h3 v2 h2 v3 h-2 v3 h-1 v-1 h-2 v-2 h-2 v-3 h2 z" fill="#66cccc"/>
<text transform="translate(604,216.6) scale(1,1.04)" text-anchor="start" stroke-linejoin="round">Proton</text>
<polygon points="598.7,232.7 599.5,234.8 600.4,236.5 599.4,238.2 598.2,239.2 596.8,238.2 595.7,236.5 597.0,234.8" fill="#000000"/>
<text transform="translate(604,241.6) scale(1,1.04)" text-anchor="start" stroke-linejoin="round">Ghost</text>
</g>
</svg>
</body></html>
